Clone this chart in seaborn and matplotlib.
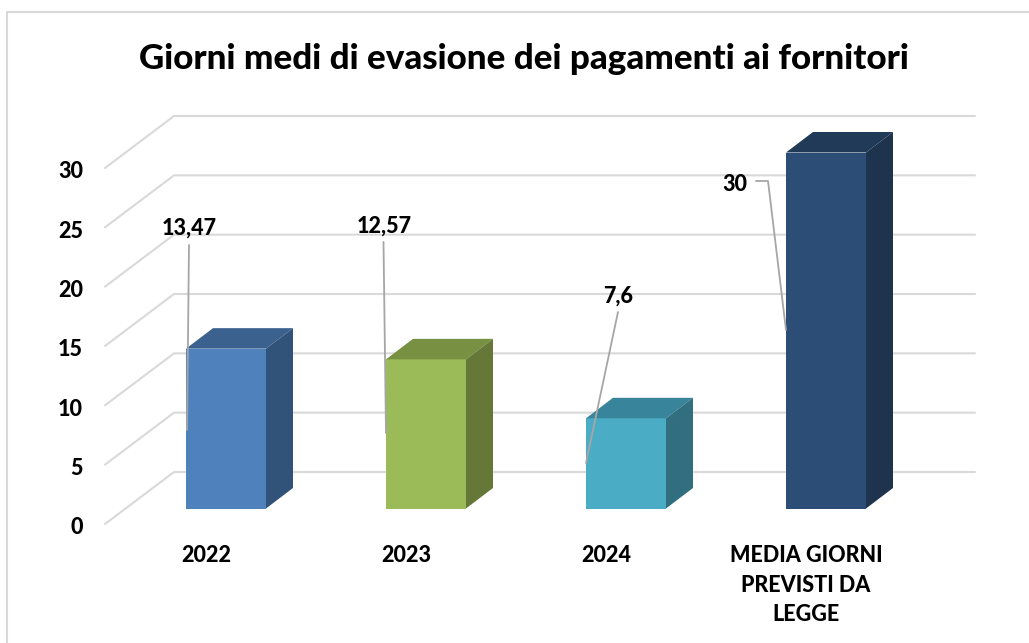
import matplotlib
matplotlib.use("Agg")
import matplotlib.pyplot as plt
from matplotlib.transforms import ScaledTranslation
from matplotlib.patches import Polygon
import seaborn as sns

# ---- data ----
categories = ["2022", "2023", "2024", "MEDIA GIORNI\nPREVISTI DA\nLEGGE"]
values = [13.47, 12.57, 7.6, 30]
value_labels = ["13,47", "12,57", "7,6", "30"]
front_colors = ["#4F81BD", "#9BBB59", "#4BACC6", "#2C4D75"]
top_colors = ["#3B618F", "#779041", "#38849A", "#213A58"]
side_colors = ["#315379", "#667837", "#316E7F", "#1D334E"]
y_ticks = [0, 5, 10, 15, 20, 25, 30]
title = "Giorni medi di evasione dei pagamenti ai fornitori"

label_xy = [(189, 228), (384, 226), (618, 296), (735, 185)]
leaders = [[(189, 245), (187, 430)],
           [(383.5, 242), (386, 433)],
           [(618, 312), (586, 463)],
           [(756, 181), (768, 181), (786, 330)]]

W, H, DPI = 1029, 643, 100
WEIGHT = 900
SIZE = 15.5
sns.set_theme(style="white")
plt.rcParams["font.family"] = ["Lato", "DejaVu Sans"]
plt.rcParams["font.weight"] = WEIGHT

fig = plt.figure(figsize=(W / DPI, H / DPI), dpi=DPI, facecolor="white")
ax = fig.add_axes([126 / W, (H - 508.5) / H, 800 / W, 356 / H])
ax.patch.set_visible(False)
for s in ax.spines.values():
    s.set_visible(False)

sns.barplot(x=categories, y=values, hue=categories, palette=front_colors,
            order=categories, hue_order=categories, width=0.4, dodge=False,
            legend=False, saturation=1, ax=ax, zorder=3, linewidth=0,
            edgecolor="none")
ax.set_xlim(-0.5, 3.5)
ax.set_ylim(0, 30)
ax.set_xlabel("")
ax.set_ylabel("")

px_x = 1 / 200
px_y = 30 / 356
dx, dy = 27 * px_x, 20.5 * px_y
half = 0.2

wall_fx, wall_bx, wall_rx = -0.605, -0.26, 3.745
wall_fy, wall_by = -15.5 * px_y, 36.5 * px_y
for v in y_ticks:
    ax.plot([wall_fx, wall_bx, wall_rx], [v + wall_fy, v + wall_by, v + wall_by],
            color="#D9D9D9", lw=1.5, clip_on=False, zorder=0.5,
            solid_joinstyle="miter")

for i, v in enumerate(values):
    l, r = i - half, i + half
    ax.add_patch(Polygon([(l, v), (r, v), (r + dx, v + dy), (l + dx, v + dy)],
                         closed=True, fc=top_colors[i], ec="none",
                         clip_on=False, zorder=3))
    ax.add_patch(Polygon([(r, 0), (r + dx, dy), (r + dx, v + dy), (r, v)],
                         closed=True, fc=side_colors[i], ec="none",
                         clip_on=False, zorder=3))

for txt, (tx, ty), path in zip(value_labels, label_xy, leaders):
    fig.text(tx / W, 1 - ty / H, txt, fontsize=SIZE, fontweight=WEIGHT,
             color="#000000", ha="center", va="center", zorder=6)
    xs = [p[0] / W for p in path]
    ys = [1 - p[1] / H for p in path]
    fig.add_artist(plt.Line2D(xs, ys, color="#A6A6A6", lw=1.3, zorder=5))

ax.set_yticks(y_ticks)
ax.set_yticklabels([str(t) for t in y_ticks])
ax.tick_params(axis="y", length=0, pad=31, labelsize=SIZE, labelcolor="black")
ax.tick_params(axis="x", length=0, pad=26.5, labelsize=SIZE, labelcolor="black")
shift_y = ScaledTranslation(0, -17.5 / DPI, fig.dpi_scale_trans)
for lab in ax.get_yticklabels():
    lab.set_transform(lab.get_transform() + shift_y)
    lab.set_fontweight(WEIGHT)
shift_x = ScaledTranslation(-20 / DPI, 0, fig.dpi_scale_trans)
for lab in ax.get_xticklabels():
    lab.set_transform(lab.get_transform() + shift_x)
    lab.set_fontweight(WEIGHT)
    lab.set_linespacing(1.5)
    lab.set_ha("center")

fig.text(524 / W, 1 - 59 / H, title, fontsize=25.2, fontweight=WEIGHT,
         color="black", ha="center", va="center")

fig.add_artist(plt.Line2D([7 / W, 7 / W, 1], [0, 1 - 12 / H, 1 - 12 / H],
                          color="#D9D9D9", lw=1.5, solid_joinstyle="miter"))

fig.savefig("out.png", dpi=DPI)
